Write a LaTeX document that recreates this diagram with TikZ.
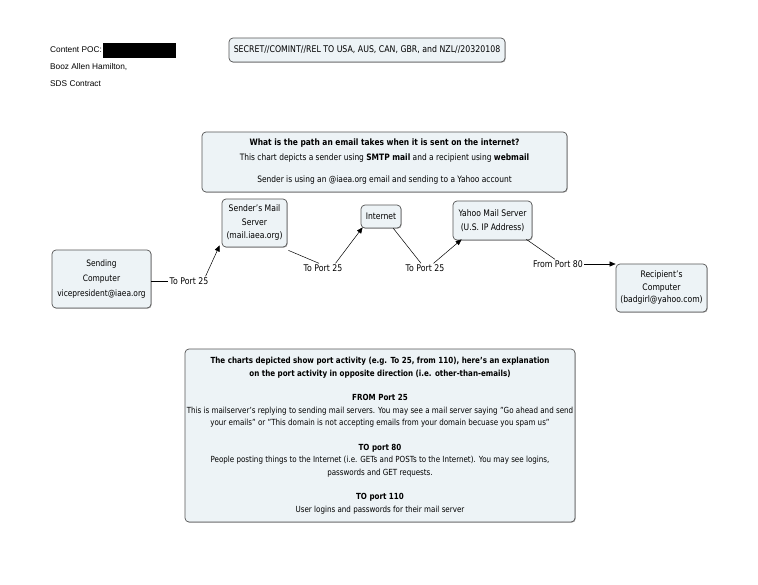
\documentclass[tikz,border=0pt]{standalone}
\usepackage{fontspec}
\setmainfont{DejaVu Sans}[FakeStretch=0.85]
\newfontfamily\arialfont{Liberation Sans}
\usetikzlibrary{arrows.meta,shadows}
\definecolor{boxfill}{RGB}{237,243,246}
\definecolor{boxline}{RGB}{85,85,85}
\tikzset{
  box/.style={draw=boxline, line width=0.7pt, fill=boxfill, rounded corners=4pt,
    align=center, inner sep=0pt, font=\fontsize{9}{13.5}\selectfont,
    drop shadow={shadow xshift=0.7pt, shadow yshift=-0.7pt, fill=gray!70, opacity=1}},
  lbl/.style={inner sep=1pt, font=\fontsize{9.2}{10}\selectfont},
  conn/.style={line width=0.5pt, draw=black},
  arr/.style={conn, -{Triangle[length=6pt,width=5pt]}},
  hdr/.style={anchor=west, inner sep=0pt, font=\arialfont\fontsize{8.3}{10}\selectfont},
}
\begin{document}
\begin{tikzpicture}[x=1pt,y=-1pt]
\useasboundingbox[fill=white] (0,0) rectangle (758,584);

% header
\node[hdr] (poc) at (50,50) {Content POC:};
\fill (103,43) rectangle (176,58);
\node[hdr] (booz) at (50,67) {Booz Allen Hamilton,};
\node[hdr] (sds) at (50,84) {SDS Contract};

\node[box, minimum width=276pt, minimum height=24pt, font=\fontsize{9.2}{11}\selectfont] (cls) at (367,50)
  {SECRET//COMINT//REL TO USA, AUS, CAN, GBR, and NZL//20320108};

% title box
\node[box, minimum width=365pt, minimum height=60pt, font=\fontsize{8.8}{15}\selectfont] (top) at (384.5,162)
  {\textbf{What is the path an email takes when it is sent on the internet?}\\
   This chart depicts a sender using \textbf{SMTP mail} and a recipient using \textbf{webmail}\\[7pt]
   Sender is using an @iaea.org email and sending to a Yahoo account};

% flow nodes
\node[box, minimum width=99pt, minimum height=58pt, font=\fontsize{8.8}{15}\selectfont] (sc) at (101.5,279)
  {Sending\\Computer\\vicepresident@iaea.org};
\node[box, minimum width=65pt, minimum height=48pt] (sms) at (254.5,223)
  {Sender's Mail\\Server\\(mail.iaea.org)};
\node[box, minimum width=40pt, minimum height=23pt] (inet) at (381,216.5) {Internet};
\node[box, minimum width=79pt, minimum height=39pt] (yms) at (492.5,220.5)
  {Yahoo Mail Server\\(U.S. IP Address)};
\node[box, minimum width=91pt, minimum height=48pt, font=\fontsize{9}{12.5}\selectfont] (rc) at (661.5,288)
  {Recipient's\\Computer\\(badgirl@yahoo.com)};

% labels
\node[lbl] (l1) at (189,281) {To Port 25};
\node[lbl] (l2) at (323,268) {To Port 25};
\node[lbl] (l3) at (425,268) {To Port 25};
\node[lbl] (l4) at (558,264) {From Port 80};

% connectors
\draw[conn] (sc.east |- l1.west) -- (l1.west);
\draw[arr] ([xshift=-4pt]l1.north east) -- ([xshift=-2pt,yshift=2pt]sms.south west);
\draw[conn] ([xshift=1pt,yshift=-3pt]sms.south east) -- ([xshift=-4pt]l2.north);
\draw[arr] ([xshift=-8pt]l2.north east) -- ([xshift=2pt,yshift=1pt]inet.south west);
\draw[conn] ([xshift=-8pt]inet.south east) -- ([xshift=-4pt]l3.north);
\draw[arr] ([xshift=-12pt]l3.north east) -- ([xshift=9pt,yshift=1pt]yms.south west);
\draw[conn] ([xshift=-6pt,yshift=1pt]yms.south east) -- ([xshift=-3pt]l4.north);
\draw[arr] (l4.east) -- (l4.east -| rc.west);

% explanation box
\node[box, minimum width=390pt, minimum height=173pt, font=\fontsize{8.4}{12.5}\selectfont] (bot) at (380,435.5)
  {\textbf{The charts depicted show port activity (e.g. To 25, from 110), here's an explanation}\\
   \textbf{on the port activity in opposite direction (i.e. other-than-emails)}\\[12pt]
   \textbf{FROM Port 25}\\
   This is mailserver's replying to sending mail servers. You may see a mail server saying "Go ahead and send\\
   your emails" or "This domain is not accepting emails from your domain becuase you spam us"\\[12pt]
   \textbf{TO port 80}\\
   People posting things to the Internet (i.e. GETs and POSTs to the Internet). You may see logins,\\
   passwords and GET requests.\\[12pt]
   \textbf{TO port 110}\\
   User logins and passwords for their mail server};
\end{tikzpicture}
\end{document}
